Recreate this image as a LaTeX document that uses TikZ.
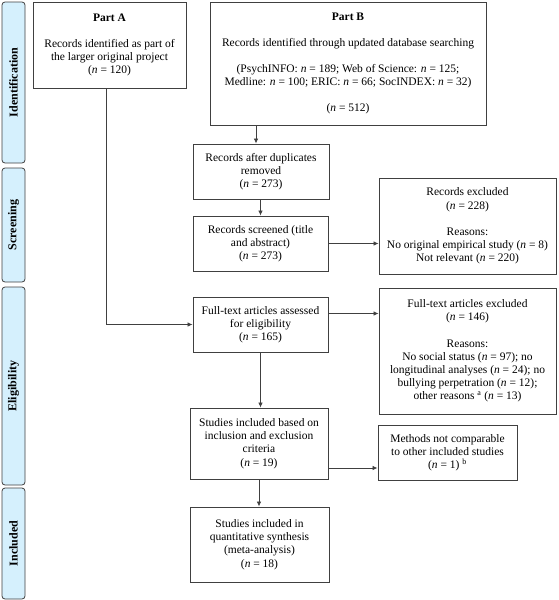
\documentclass[tikz,border=0pt]{standalone}
\usepackage{fontspec}
\setmainfont{Liberation Serif}
\usetikzlibrary{arrows.meta}
\definecolor{sidefill}{HTML}{D5F0FD}
\definecolor{linecol}{HTML}{404040}
\newcommand\nv{\textit{n}}
\begin{document}
\begin{tikzpicture}[x=1pt,y=-1pt,
  box/.style={draw=linecol,line width=0.9pt,rectangle,align=center,inner sep=0pt,
    font=\fontsize{11.5}{13.2}\selectfont},
  side/.style={draw=linecol,line width=0.8pt,fill=sidefill,rounded corners=3pt,
    rotate=90,inner sep=0pt,minimum height=23,font=\fontsize{12}{13}\selectfont\bfseries},
  arr/.style={draw=linecol,line width=0.8pt,-{Latex[length=5pt,width=4.5pt]}},
  ln/.style={draw=linecol,line width=0.8pt}]
\useasboundingbox (0,0) rectangle (558,600);
% side bars
\node[side,minimum width=161] (sid) at (13.5,82.5) {Identification};
\node[side,minimum width=114] (ssc) at (13.5,225) {Screening};
\node[side,minimum width=198] (sel) at (13.5,386) {Eligibility};
\node[side,minimum width=111] (sin) at (13.5,543.5) {Included};
% boxes
\node[box,minimum width=153,minimum height=86] (partA) at (109.5,45)
  {\textbf{Part A}\\[13pt] Records identified as part of\\ the larger original project\\ (\nv{} = 120)};
\node[box,minimum width=276,minimum height=123] (partB) at (348,63.5)
  {\textbf{Part B}\\[13pt] Records identified through updated database searching\\[13pt]
   (PsychINFO: \nv{} = 189; Web of Science: \nv{} = 125;\\
   Medline: \nv{} = 100; ERIC: \nv{} = 66; SocINDEX: \nv{} = 32)\\[13pt] (\nv{} = 512)};
\node[box,minimum width=136,minimum height=55] (dup) at (261,171.5)
  {Records after duplicates\\ removed\\ (\nv{} = 273)};
\node[box,minimum width=135,minimum height=55] (screen) at (260.5,243.5)
  {Records screened (title\\ and abstract)\\ (\nv{} = 273)};
\node[box,minimum width=177,minimum height=96] (excl) at (467.5,226)
  {Records excluded\\ (\nv{} = 228)\\[13pt] Reasons:\\ No original empirical study (\nv{} = 8)\\ Not relevant (\nv{} = 220)};
\node[box,minimum width=135,minimum height=55] (full) at (260.5,324.5)
  {Full-text articles assessed\\ for eligibility\\ (\nv{} = 165)};
\node[box,minimum width=177,minimum height=126] (fexcl) at (467.5,351)
  {Full-text articles excluded\\ (\nv{} = 146)\\[13pt] Reasons:\\ No social status (\nv{} = 97); no\\
   longitudinal analyses (\nv{} = 24); no\\ bullying perpetration (\nv{} = 12);\\
   other reasons \textsuperscript{a} (\nv{} = 13)};
\node[box,minimum width=138,minimum height=71] (incl) at (259,443.5)
  {Studies included based on\\ inclusion and exclusion\\ criteria\\ (\nv{} = 19)};
\node[box,minimum width=139,minimum height=55] (meth) at (447.5,452.5)
  {Methods not comparable\\ to other included studies\\ (\nv{} = 1) \textsuperscript{b}};
\node[box,minimum width=139,minimum height=75] (final) at (259.5,544.5)
  {Studies included in\\ quantitative synthesis\\ (meta-analysis)\\ (\nv{} = 18)};
% connectors
\draw[arr] ([xshift=-5pt]dup.north |- partB.south) -- ([xshift=-5pt]dup.north);
\draw[arr] (screen.north |- dup.south) -- (screen.north);
\draw[arr] (screen.east) -- (screen.east -| excl.west);
\draw[arr] ([yshift=11pt]full.east) -- ([yshift=11pt]full.east -| fexcl.west);
\draw[arr] (full.south) -- (full.south |- incl.north);
\draw[arr] ([yshift=-24.5pt]incl.east) -- ([yshift=-24.5pt]incl.east -| meth.west);
\draw[arr] (incl.south) -- (incl.south |- final.north);
\draw[arr] ([xshift=-3.5pt]partA.south) |- (full.west);
\end{tikzpicture}
\end{document}
